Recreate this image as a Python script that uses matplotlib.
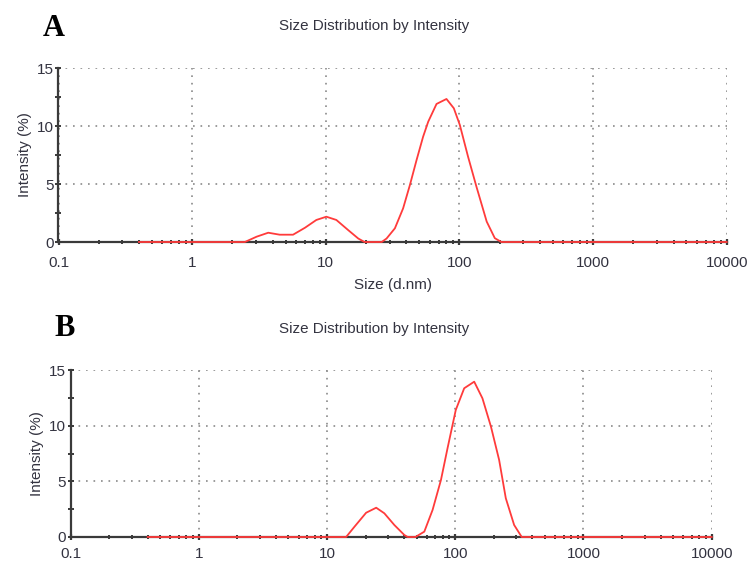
import matplotlib
matplotlib.use("Agg")
import matplotlib.pyplot as plt
from matplotlib.ticker import LogLocator, FixedLocator, NullFormatter, FixedFormatter
import numpy as np

plt.rcParams['font.family'] = ['Liberation Sans', 'DejaVu Sans']

# ---- data ----
sizes_a = [0.4, 2.48, 3.04, 3.71, 4.52, 5.69, 6.99, 8.5, 10.1, 12.0, 14.7, 17.5,
           19.5, 26.2, 28.5, 32.9, 37.9, 42.6, 47.8, 53.5, 58.4, 67.4, 80.0,
           90.8, 100.7, 116.0, 134.0, 160.0, 184.0, 206.0, 10000.0]
intensity_a = [0, 0, 0.46, 0.8, 0.63, 0.63, 1.23, 1.9, 2.18, 1.9, 1.03, 0.3,
               0, 0, 0.3, 1.18, 2.9, 4.91, 7.07, 9.08, 10.37, 11.9, 12.33,
               11.53, 10.09, 7.36, 4.78, 1.76, 0.33, 0, 0]

sizes_b = [0.4, 14.1, 16.4, 20.2, 24.2, 28.0, 33.5, 40.1, 42.6, 48.9, 57.4, 66.6,
           77.4, 87.1, 101.0, 117.5, 140.6, 163.0, 190.0, 220.0, 248.0, 288.0,
           330.0, 10000.0]
intensity_b = [0, 0, 0.93, 2.18, 2.63, 2.13, 1.08, 0.18, 0, 0, 0.48, 2.43,
               5.12, 7.97, 11.41, 13.36, 13.95, 12.46, 9.91, 6.92, 3.48, 1.08,
               0, 0]

x_ticks = [0.1, 1, 10, 100, 1000, 10000]
x_ticklabels = ["0.1", "1", "10", "100", "1000", "10000"]
y_ticks = [0, 5, 10, 15]
y_ticklabels = ["0", "5", "10", "15"]
title = "Size Distribution by Intensity"
xlabel = "Size (d.nm)"
ylabel = "Intensity (%)"

W, H = 748, 563
fig = plt.figure(figsize=(W / 100, H / 100), dpi=100)

text_col = '#333340'
axis_col = '#3a3a3a'
red = '#ff3b3b'


def px_rect(l, r, t, b):
    return [l / W, 1 - b / H, (r - l) / W, (b - t) / H]


def setup(ax, sizes, vals, show_xlabel, xpad):
    ax.set_xscale('log')
    ax.set_xlim(0.1, 10000)
    ax.set_ylim(0, 15)
    ax.xaxis.set_major_locator(FixedLocator(x_ticks))
    ax.xaxis.set_major_formatter(FixedFormatter(x_ticklabels))
    ax.xaxis.set_minor_locator(LogLocator(base=10, subs=np.arange(2, 10), numticks=20))
    ax.xaxis.set_minor_formatter(NullFormatter())
    ax.yaxis.set_major_locator(FixedLocator(y_ticks))
    ax.yaxis.set_major_formatter(FixedFormatter(y_ticklabels))
    ax.yaxis.set_minor_locator(FixedLocator([2.5, 7.5, 12.5]))
    for s in ['top', 'right']:
        ax.spines[s].set_visible(False)
    for s in ['left', 'bottom']:
        ax.spines[s].set_color(axis_col)
        ax.spines[s].set_linewidth(1.6)
    ax.tick_params(axis='x', which='major', direction='inout', length=4, width=1.6,
                   color=axis_col, labelsize=11, labelcolor=text_col, pad=xpad)
    ax.tick_params(axis='x', which='minor', direction='inout', length=3, width=1.4,
                   color=axis_col)
    ax.tick_params(axis='y', which='both', direction='inout', length=5, width=1.4,
                   color=axis_col, labelsize=11, labelcolor=text_col, pad=0.5)
    ax.grid(True, which='major', color='#8a8a8a', linestyle=(0, (1, 3.5)), linewidth=1.2)
    ax.set_axisbelow(True)
    ax.plot(sizes, vals, color=red, linewidth=1.3, zorder=5, clip_on=False,
            solid_joinstyle='round')
    ax.set_ylabel(ylabel, fontsize=11, color=text_col, labelpad=4)
    if show_xlabel:
        ax.set_xlabel(xlabel, fontsize=11, color=text_col, labelpad=6)


axA = fig.add_axes(px_rect(58.5, 726.7, 68, 242))
setup(axA, sizes_a, intensity_a, True, 8)
axB = fig.add_axes(px_rect(70.5, 711.7, 370, 537))
setup(axB, sizes_b, intensity_b, False, 5.5)

fig.text(374 / W, 1 - 26 / H, title, ha='center', va='center', fontsize=10.9, color=text_col)
fig.text(374 / W, 1 - 329 / H, title, ha='center', va='center', fontsize=10.9, color=text_col)
fig.text(54 / W, 1 - 29 / H, "A", ha='center', va='center', fontsize=22,
         fontweight='bold', family=['Liberation Serif', 'DejaVu Serif'], color='black')
fig.text(65 / W, 1 - 329 / H, "B", ha='center', va='center', fontsize=22,
         fontweight='bold', family=['Liberation Serif', 'DejaVu Serif'], color='black')

fig.savefig("out.png", dpi=100)
